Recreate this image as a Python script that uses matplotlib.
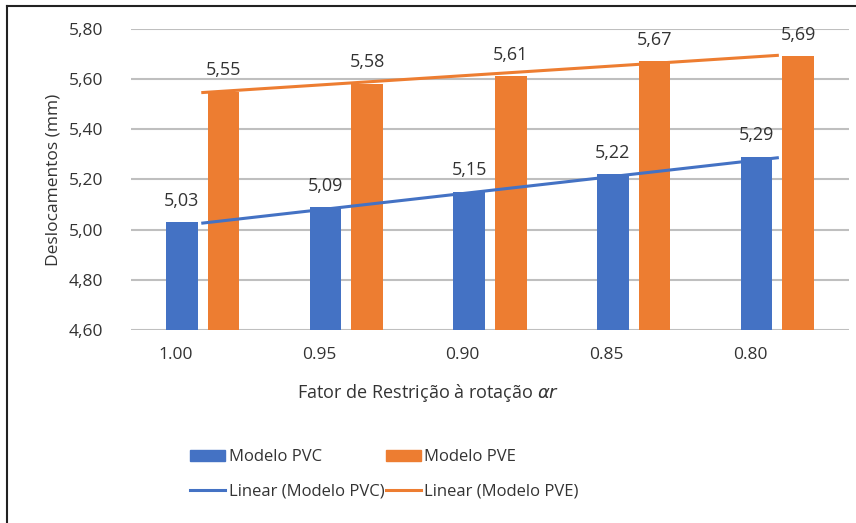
import numpy as np
import matplotlib.pyplot as plt
from matplotlib.lines import Line2D
from matplotlib.patches import Patch

# Data
categories = ["1.00", "0.95", "0.90", "0.85", "0.80"]
pvc = [5.03, 5.09, 5.15, 5.22, 5.29]
pve = [5.55, 5.58, 5.61, 5.67, 5.69]

blue = "#4472C4"
orange = "#ED7D31"
txt = "#333333"

plt.rcParams['font.family'] = ['Open Sans', 'DejaVu Sans']

fig = plt.figure(figsize=(8.56, 5.23), dpi=100)
ax = fig.add_axes([0.153, 0.369, 0.839, 0.576])

x = np.arange(len(categories))
w = 0.22
off = 0.145
b1 = ax.bar(x - off, pvc, w, color=blue, zorder=2)
b2 = ax.bar(x + off, pve, w, color=orange, zorder=2)

# Linear trendlines (at category centres)
for vals, c in [(pvc, blue), (pve, orange)]:
    k, b = np.polyfit(x + 1, vals, 1)
    ax.plot(x, k * (x + 1) + b, color=c, lw=2.2, zorder=3)

# Data labels
for bars, vals in [(b1, pvc), (b2, pve)]:
    for r, v in zip(bars, vals):
        ax.annotate(f"{v:.2f}".replace(".", ","), (r.get_x() + r.get_width() / 2, v),
                    xytext=(0, 9), textcoords="offset points", ha="center", va="bottom",
                    fontsize=13, color=txt)

ax.set_xlim(-0.5, len(categories) - 0.5)
ax.set_ylim(4.6, 5.8)
ax.set_yticks(np.arange(4.6, 5.81, 0.2))
ax.set_yticklabels([f"{t:.2f}".replace(".", ",") for t in np.arange(4.6, 5.81, 0.2)])
ax.set_xticks(x - 0.19)
ax.set_xticklabels(categories)
ax.tick_params(length=0, labelsize=12.5, labelcolor=txt)
ax.tick_params(axis="x", pad=12)
ax.tick_params(axis="y", pad=20)
ax.grid(axis="y", color="#bfbfbf", lw=1.5, zorder=0)
for s in ax.spines.values():
    s.set_visible(False)

ax.set_ylabel("Deslocamentos (mm)", fontsize=12.5, color=txt)
ax.yaxis.set_label_coords(-0.097, 0.5)
fig.text(0.5, 0.249, r"Fator de Restrição à rotação $\alpha r$", ha="center", va="center",
         fontsize=13, color=txt)

# legend columns: bars on row 1, trendlines on row 2
handles = [Patch(color=blue), Line2D([], [], color=blue, lw=2.2),
           Patch(color=orange), Line2D([], [], color=orange, lw=2.2)]
labels = ["Modelo PVC", "Linear (Modelo PVC)", "Modelo PVE", "Linear (Modelo PVE)"]
fig.legend(handles, labels, ncol=2, loc="center left", bbox_to_anchor=(0.205, 0.093),
           frameon=False, fontsize=12, labelcolor=txt, handlelength=2.1,
           handletextpad=0.2, columnspacing=0.1, labelspacing=1.1)

# Outer frame (left and top only)
fig.add_artist(Line2D([0.008, 0.008], [0, 0.989], color="#222222", lw=1.5, transform=fig.transFigure))
fig.add_artist(Line2D([0.008, 1.0], [0.989, 0.989], color="#222222", lw=1.5, transform=fig.transFigure))

fig.savefig("out.png", dpi=100)
